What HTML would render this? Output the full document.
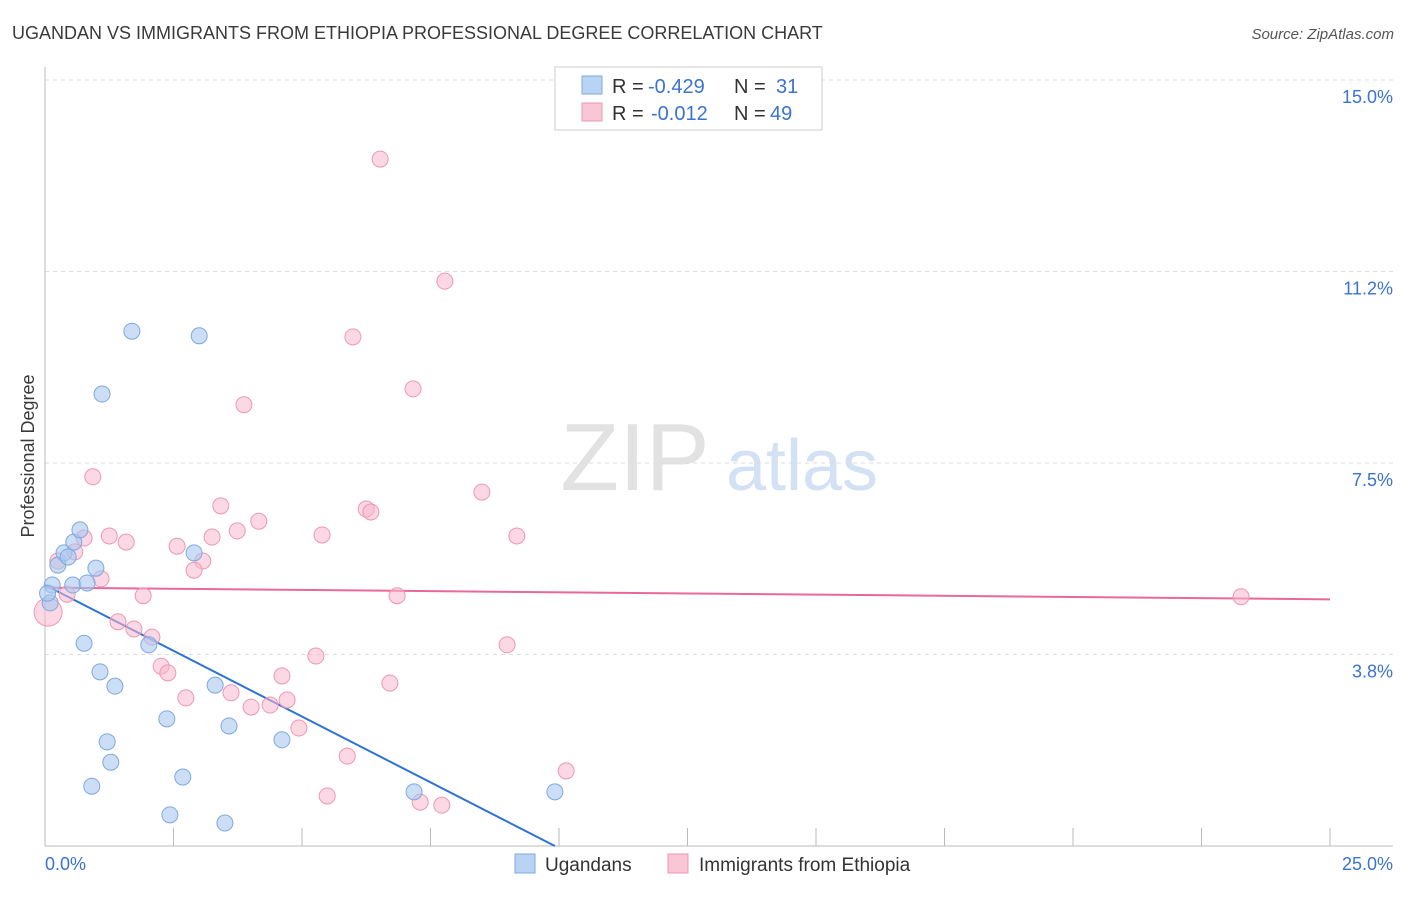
<!DOCTYPE html>
<html><head><meta charset="utf-8">
<style>
body{margin:0;background:#fff;font-family:"Liberation Sans",sans-serif;}
svg text{font-family:"Liberation Sans",sans-serif;}
</style></head>
<body>
<svg id="chart" width="1406" height="892" xmlns="http://www.w3.org/2000/svg">
<text x="12" y="39" font-size="18" fill="#3a3a3a">UGANDAN VS IMMIGRANTS FROM ETHIOPIA PROFESSIONAL DEGREE CORRELATION CHART</text>
<text x="1394" y="39" font-size="15" fill="#555" text-anchor="end" font-style="italic">Source: ZipAtlas.com</text>
<g>
<text x="635" y="490" font-size="96" fill="#e2e2e2" text-anchor="middle" font-family="Liberation Serif">ZIP</text>
<text x="802" y="490" font-size="72" fill="#d3e1f5" text-anchor="middle">atlas</text>
</g>
<g id="grid"></g>
<g id="axes"></g>
<g id="lines"></g>
<g id="points"></g>
<text transform="translate(34,456) rotate(-90)" font-size="18" fill="#3a3a3a" text-anchor="middle">Professional Degree</text>
<g>
<rect x="555" y="67" width="267" height="63" fill="#fff" stroke="#ccc"/>
<rect x="582" y="76" width="20" height="18" fill="#b9d3f4" stroke="#7fa8e0"/>
<rect x="582" y="103" width="20" height="18" fill="#f9c6d6" stroke="#ee97b3"/>
<text x="612" y="93" font-size="20" fill="#333">R =</text>
<text x="648" y="93" font-size="20" fill="#3b73d0">-0.429</text>
<text x="734" y="93" font-size="20" fill="#333">N =</text>
<text x="776" y="93" font-size="20" fill="#3b73d0">31</text>
<text x="612" y="120" font-size="20" fill="#333">R =</text>
<text x="651" y="120" font-size="20" fill="#3b73d0">-0.012</text>
<text x="734" y="120" font-size="20" fill="#333">N =</text>
<text x="770" y="120" font-size="20" fill="#3b73d0">49</text>
</g>
<g>
<rect x="515" y="854" width="20" height="19" fill="#b9d3f4" stroke="#7fa8e0"/>
<text x="545" y="871" font-size="19" fill="#333">Ugandans</text>
<rect x="668" y="854" width="20" height="19" fill="#f9c6d6" stroke="#ee97b3"/>
<text x="699" y="871" font-size="19" fill="#333">Immigrants from Ethiopia</text>
</g>
</svg>
<script>
const xTicks=[0,2.5,5,7.5,10,12.5,15,17.5,20,22.5,25];
const yTicks=[3.75,7.5,11.25,15];
const yTickLabels=["3.8%","7.5%","11.2%","15.0%"];
const ugX=[0.14,0.1,0.25,0.37,0.45,0.56,0.68,0.54,0.82,0.99,1.69,3.0,1.11,0.76,1.07,1.36,2.02,2.9,2.37,1.21,1.28,0.91,2.68,2.43,3.5,3.31,3.58,4.61,7.18,9.92,0.05];
const ugY=[5.11,4.76,5.5,5.74,5.66,5.95,6.19,5.11,5.15,5.44,10.08,9.99,8.85,3.97,3.41,3.13,3.94,5.74,2.49,2.04,1.64,1.17,1.35,0.61,0.45,3.15,2.35,2.08,1.06,1.06,4.95];
const etX=[6.52,7.78,5.99,7.16,3.87,0.93,8.5,3.42,6.25,6.34,4.16,3.74,3.25,5.39,9.18,1.25,1.58,0.76,2.57,3.07,2.9,0.58,0.25,1.09,0.43,1.91,6.85,23.27,0.06,1.42,1.73,2.08,8.99,5.27,2.26,2.39,4.61,6.71,2.74,3.62,4.71,4.01,4.38,4.94,5.88,10.14,5.49,7.3,7.72];
const etY=[13.45,11.06,9.97,8.95,8.64,7.23,6.93,6.66,6.6,6.54,6.36,6.17,6.05,6.09,6.07,6.07,5.95,6.03,5.87,5.58,5.4,5.76,5.58,5.23,4.93,4.9,4.9,4.88,4.58,4.39,4.25,4.09,3.94,3.72,3.52,3.39,3.33,3.19,2.9,3.0,2.86,2.72,2.76,2.31,1.76,1.47,0.98,0.86,0.8];
const ugTrend=[5.11,0.0,9.92];
const etTrend=[5.06,4.83,25];
const NS="http://www.w3.org/2000/svg";
const X=v=>45+v*51.4, Y=v=>846-v*51.07;
function mk(tag,attrs,parent){const e=document.createElementNS(NS,tag);for(const k in attrs)e.setAttribute(k,attrs[k]);document.getElementById(parent).appendChild(e);return e;}
yTicks.forEach((t,i)=>{
 const g=mk('line',{x1:45,x2:1393,y1:Y(t),y2:Y(t),stroke:'#ddd','stroke-dasharray':'4,4'},'grid');
 
 
 const l=mk('text',{x:1393,y:Y(t)+23,'font-size':18,fill:'#3b73d0','text-anchor':'end'},'grid');
 l.textContent=yTickLabels[i];
 
 
});
const ax=mk('line',{x1:45,x2:1393,y1:846,y2:846,stroke:'#bbb'},'axes');


const ay=mk('line',{x1:45,x2:45,y1:67,y2:846,stroke:'#bbb'},'axes');


xTicks.forEach(t=>{
 const e=mk('line',{x1:X(t),x2:X(t),y1:846,y2:828,stroke:'#bbb'},'axes');
 
 
});
const xl0=mk('text',{x:45,y:870,'font-size':18,fill:'#3b73d0'},'axes');xl0.textContent='0.0%';


const xl1=mk('text',{x:1393,y:870,'font-size':18,fill:'#3b73d0','text-anchor':'end'},'axes');xl1.textContent='25.0%';


etX.forEach((v,i)=>{
 const r=i==28?14:8;
 const c=mk('circle',{cx:X(v),cy:Y(etY[i]),r:r,fill:'#f7b8cc','fill-opacity':0.55,stroke:'#ee97b3','stroke-width':1},'points');
 
 
});
ugX.forEach((v,i)=>{
 const c=mk('circle',{cx:X(v),cy:Y(ugY[i]),r:8,fill:'#a9c8f0','fill-opacity':0.6,stroke:'#7fa8e0','stroke-width':1},'points');
 
 
});
const l1=mk('line',{x1:X(0),y1:Y(ugTrend[0]),x2:X(ugTrend[2]),y2:Y(ugTrend[1]),stroke:'#2f72d6','stroke-width':2},'lines');


const l2=mk('line',{x1:X(0),y1:Y(etTrend[0]),x2:X(etTrend[2]),y2:Y(etTrend[1]),stroke:'#e8689a','stroke-width':2},'lines');


</script>
</body></html>
